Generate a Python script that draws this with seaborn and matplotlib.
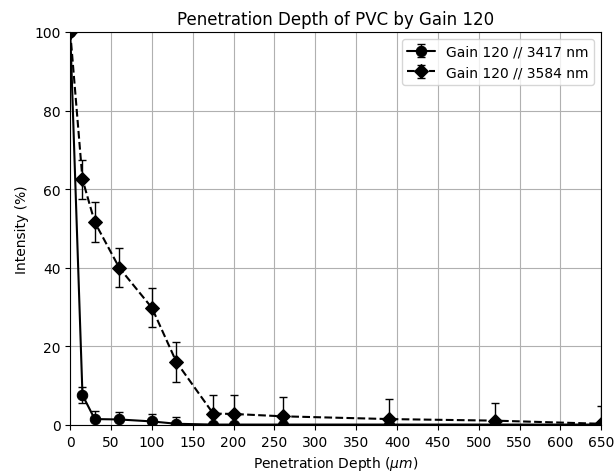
import pandas as pd
import matplotlib
matplotlib.use('Agg')
import matplotlib.pyplot as plt
import seaborn as sns
from matplotlib.legend_handler import HandlerTuple

# Data
depth = [0, 15, 30, 60, 100, 130, 175, 200, 260, 390, 520, 650]
gain_3417 = [100, 7.6, 1.5, 1.4, 0.9, 0.3, 0.1, 0.1, 0.1, 0.1, 0.1, 0.1]
err_3417 = [0.5, 2.0, 2.0, 1.9, 1.8, 1.8, 0.3, 0.3, 0.3, 0.3, 0.3, 0.3]
gain_3584 = [100, 62.5, 51.6, 40.0, 29.8, 16.0, 2.9, 2.8, 2.2, 1.5, 1.1, 0.3]
err_3584 = [0.5, 5.0, 5.0, 5.0, 5.0, 5.0, 4.8, 4.9, 4.8, 5.0, 4.6, 4.6]
labels = ['Gain 120 // 3417 nm', 'Gain 120 // 3584 nm']

sns.set_style('ticks', {'axes.edgecolor': 'black', 'text.color': 'black',
                        'axes.labelcolor': 'black', 'xtick.color': 'black',
                        'ytick.color': 'black'})
plt.rcParams['font.family'] = ['DejaVu Sans']

fig, ax = plt.subplots(figsize=(6.16, 4.77), dpi=100)
fig.subplots_adjust(left=0.114, right=0.976, top=0.931, bottom=0.107)

series = [
    (gain_3417, err_3417, 'o', '-', labels[0]),
    (gain_3584, err_3584, 'D', '--', labels[1]),
]
handles = []
for vals, errs, marker, ls, lab in series:
    df = pd.DataFrame({'depth': depth, 'intensity': vals})
    sns.lineplot(data=df, x='depth', y='intensity', ax=ax, color='black',
                 marker=marker, markersize=7.5, linestyle=ls, linewidth=1.5,
                 markeredgecolor='black', legend=False)
    line = ax.lines[-1]
    eb = ax.errorbar(depth, vals, yerr=errs, fmt='none', ecolor='black',
                     elinewidth=1, capsize=3)
    handles.append((eb, line))

ax.set_xlim(0, 650)
ax.set_ylim(0, 100)
ax.set_xticks(range(0, 651, 50))
ax.set_yticks(range(0, 101, 20))
ax.grid(True, color='#b0b0b0', linewidth=0.8)
ax.set_xlabel('Penetration Depth ($\\mu m$)')
ax.set_ylabel('Intensity (%)')
ax.set_title('Penetration Depth of PVC by Gain 120')
ax.legend(handles, labels, handler_map={tuple: HandlerTuple(ndivide=1)},
          loc='upper right', fontsize=10)

fig.savefig('out.png', dpi=100)
